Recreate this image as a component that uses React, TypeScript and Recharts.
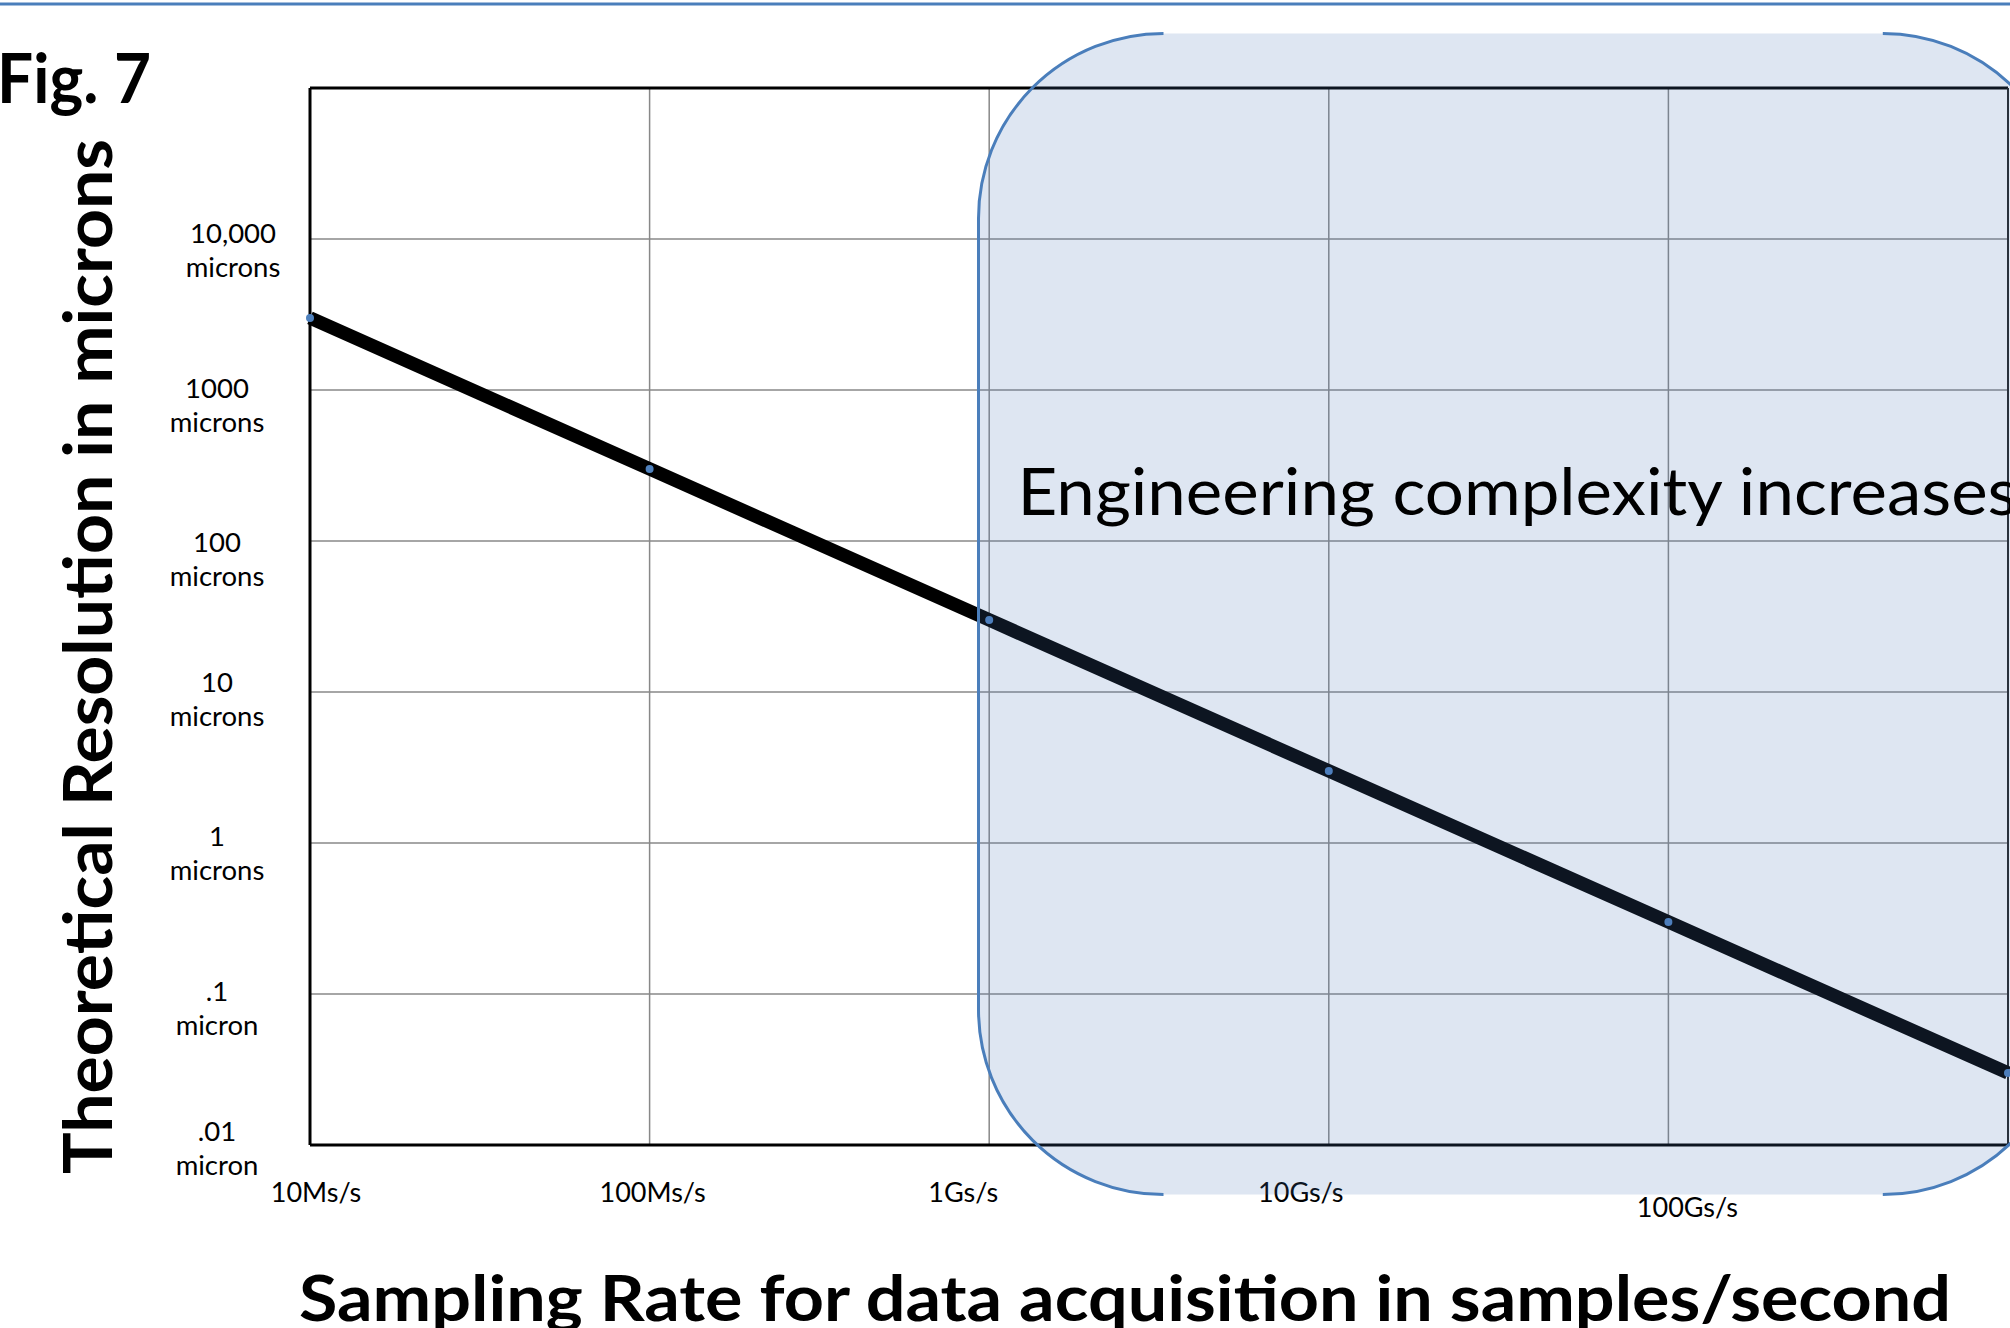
import { LineChart, Line, XAxis, YAxis, CartesianGrid, ReferenceArea, ReferenceLine } from 'recharts';

// sample rate (samples/second) vs theoretical resolution (microns)
const sampleRates = [1e7, 1e8, 1e9, 1e10, 1e11, 1e12];
const resolutionMicrons = [3000, 300, 30, 3, 0.3, 0.03];

const xTicks = [1e7, 1e8, 1e9, 1e10, 1e11, 1e12];
const xTickLabels = ['10Ms/s', '100Ms/s', '1Gs/s', '10Gs/s', '100Gs/s', ''];

const yTicks = [0.01, 0.1, 1, 10, 100, 1000, 10000];
const yTickLabels = [
  ['.01', 'micron'],
  ['.1', 'micron'],
  ['1', 'microns'],
  ['10', 'microns'],
  ['100', 'microns'],
  ['1000', 'microns'],
  ['10,000', 'microns'],
];

// shaded "engineering complexity" region, in data units
const highlightRate = [9.3e8, 1.5e12];
const highlightRes = [0.0047, 230000];

const data = sampleRates.map((rate, i) => ({ rate, resolution: resolutionMicrons[i] }));

// label nudges (px) to follow the original's slightly uneven label placement
const xLabelNudge = [[6, 0], [3, 0], [-26, 0], [-28, 0], [19, 15], [0, 0]];
const yLabelNudge = [[0, -14], [0, -3], [0, -7], [0, -10], [0, 1], [0, -2], [16, -6]];

const FONT = 'Lato, "Open Sans", sans-serif';

function XTick(props: any) {
  const { x, payload } = props;
  const i = xTicks.indexOf(payload.value);
  if (i < 0 || !xTickLabels[i]) return null;
  const [dx, dy] = xLabelNudge[i];
  return (
    <text x={x + dx} y={1202 + dy} textAnchor="middle" fontFamily={FONT} fontSize={27} fill="#000">
      {xTickLabels[i]}
    </text>
  );
}

function YTick(props: any) {
  const { y, payload } = props;
  const i = yTicks.indexOf(payload.value);
  if (i < 0) return null;
  const [dx, dy] = yLabelNudge[i];
  const cx = 217 + dx;
  const base = y + dy + 10;
  return (
    <text textAnchor="middle" fontFamily={FONT} fontSize={27.5} fill="#000">
      <tspan x={cx} y={base}>{yTickLabels[i][0]}</tspan>
      <tspan x={cx} y={base + 34}>{yTickLabels[i][1]}</tspan>
    </text>
  );
}

function HighlightShape(props: any) {
  const { x, y, width, height } = props;
  const r = 185;
  const right = x + width;
  const bottom = y + height;
  const edge =
    `M ${x + r} ${y} A ${r} ${r} 0 0 0 ${x} ${y + r} L ${x} ${bottom - r} A ${r} ${r} 0 0 0 ${x + r} ${bottom} ` +
    `M ${right - r} ${y} A ${r} ${r} 0 0 1 ${right} ${y + r} L ${right} ${bottom - r} A ${r} ${r} 0 0 1 ${right - r} ${bottom}`;
  return (
    <g>
      <rect x={x} y={y} width={width} height={height} rx={r} ry={r} fill="#4a77b5" fillOpacity={0.18} />
      <path d={edge} fill="none" stroke="#4a7ebb" strokeWidth={3} />
      <text
        x={x + 39}
        y={y + 482}
        fontFamily={FONT}
        fontSize={66}
        fill="#000"
        textLength={1000}
        lengthAdjust="spacingAndGlyphs"
      >
        Engineering complexity increases
      </text>
    </g>
  );
}

function YTitle(props: any) {
  const { viewBox } = props;
  const cx = viewBox.x + 112;
  const cy = viewBox.y + viewBox.height / 2 + 40;
  return (
    <text
      x={cx}
      y={cy}
      transform={`rotate(-90, ${cx}, ${cy})`}
      textAnchor="middle"
      fontFamily={FONT}
      fontWeight={700}
      fontSize={66}
      fill="#000"
      textLength={1035}
      lengthAdjust="spacingAndGlyphs"
    >
      Theoretical Resolution in microns
    </text>
  );
}

function XTitle(props: any) {
  const { viewBox } = props;
  const cx = viewBox.x + viewBox.width / 2 - 34;
  return (
    <text
      x={cx}
      y={1321}
      textAnchor="middle"
      fontFamily={FONT}
      fontWeight={700}
      fontSize={64}
      fill="#000"
      textLength={1652}
      lengthAdjust="spacingAndGlyphs"
    >
      Sampling Rate for data acquisition in samples/second
    </text>
  );
}

export default function App() {
  return (
    <div style={{ position: 'relative', width: 2010, height: 1328, overflow: 'hidden', background: '#fff' }}>
      <style>{`body { margin: 0; overflow: hidden; }`}</style>
      <LineChart width={2010} height={1328} data={data} margin={{ top: 88, right: 2, bottom: 0, left: 0 }}>
        <CartesianGrid stroke="#888" strokeWidth={1.5} />
        <XAxis
          dataKey="rate"
          type="number"
          scale="log"
          domain={[1e7, 1e12]}
          ticks={xTicks}
          height={183}
          axisLine={{ stroke: '#000', strokeWidth: 3 }}
          tickLine={false}
          tick={<XTick />}
          interval={0}
          label={{ content: <XTitle /> }}
        />
        <YAxis
          type="number"
          scale="log"
          domain={[0.01, 100000]}
          ticks={yTicks}
          width={310}
          axisLine={{ stroke: '#000', strokeWidth: 3 }}
          tickLine={false}
          tick={<YTick />}
          interval={0}
          label={{ content: <YTitle /> }}
        />
        <ReferenceLine y={100000} stroke="#000" strokeWidth={3} />
        <ReferenceLine x={1e12} stroke="#222" strokeWidth={2} />
        <Line
          type="linear"
          dataKey="resolution"
          stroke="#000"
          strokeWidth={13.5}
          dot={{ r: 4, fill: '#4f81bd', stroke: 'none' }}
          activeDot={false}
          isAnimationActive={false}
        />
        <ReferenceArea
          x1={highlightRate[0]}
          x2={highlightRate[1]}
          y1={highlightRes[0]}
          y2={highlightRes[1]}
          ifOverflow="visible"
          zIndex={2000}
          shape={<HighlightShape />}
        />
      </LineChart>
      <svg width={2010} height={1328} style={{ position: 'absolute', left: 0, top: 0, pointerEvents: 'none' }}>
        <line x1={0} y1={4} x2={2010} y2={4} stroke="#4a7ebb" strokeWidth={3} />
        <text x={-3} y={103} fontFamily={FONT} fontWeight={700} fontSize={68} fill="#000" textLength={154} lengthAdjust="spacingAndGlyphs">
          Fig. 7
        </text>
      </svg>
    </div>
  );
}
